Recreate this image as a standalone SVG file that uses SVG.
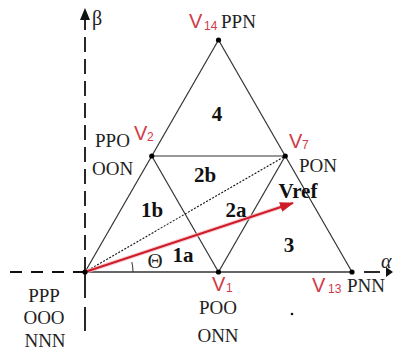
<svg xmlns="http://www.w3.org/2000/svg" width="394" height="356" viewBox="0 0 394 356">
<defs>
<style>
.ax{stroke:#111;stroke-width:1.8;fill:none}
.edge{stroke:#333;stroke-width:1.2;fill:none}
.dot{fill:#000}
.lbl{font-family:"Liberation Serif","Times New Roman",serif;font-size:19px;fill:#222}
.v{font-family:"Liberation Sans",Arial,sans-serif;font-size:20px;fill:#d23a48}
.vs{font-family:"Liberation Sans",Arial,sans-serif;font-size:12px;fill:#d23a48}
.reg{font-family:"Liberation Serif","Times New Roman",serif;font-size:21px;font-weight:bold;fill:#111;text-anchor:middle}
</style>
<marker id="redhead" markerWidth="14" markerHeight="10" refX="13" refY="5" orient="auto" markerUnits="userSpaceOnUse">
<path d="M0,0 L14,5 L0,10 Z" fill="#d01c28"/>
</marker>
</defs>
<rect width="394" height="356" fill="#fff"/>
<g id="axes">
<line class="ax" x1="85" y1="272" x2="85" y2="20" stroke-dasharray="15,7"/>
<line class="ax" x1="85" y1="274" x2="85" y2="336" stroke-dasharray="24,9"/>
<path d="M80,20 L85,8 L90,20 Z" fill="#111"/>
<line class="ax" x1="85" y1="272" x2="10" y2="272" stroke-dasharray="12,9"/>
<line class="ax" x1="364" y1="272" x2="380" y2="272"/>
<path d="M386,267 L393,272 L386,277 Z" fill="#111"/>
<text class="lbl" x="92" y="25" style="font-size:20px">β</text>
<text class="lbl" x="381" y="268" style="font-size:20px;font-style:italic">α</text>
</g>
<g id="connectors">
<line class="edge" x1="85" y1="272" x2="352" y2="272" style="stroke-width:1.6"/>
<line class="edge" x1="85" y1="272" x2="218.5" y2="40"/>
<line class="edge" x1="218.5" y1="40" x2="352" y2="272"/>
<line class="edge" x1="151.75" y1="156" x2="285.25" y2="156"/>
<line class="edge" x1="151.75" y1="156" x2="218.5" y2="272"/>
<line class="edge" x1="285.25" y1="156" x2="218.5" y2="272"/>
<line x1="85" y1="272" x2="285.25" y2="156" stroke="#111" stroke-width="1.1" stroke-dasharray="2,1.5"/>
<line x1="85" y1="272" x2="290" y2="204" stroke="#f2b8c0" stroke-width="4" opacity="0.7"/>
<line x1="85" y1="272" x2="293" y2="203" stroke="#d01c28" stroke-width="2" marker-end="url(#redhead)"/>
<path d="M133,272 A48,48 0 0 0 131.9,262" stroke="#333" stroke-width="1" fill="none"/>
</g>
<g id="origin">
<circle class="dot" cx="85" cy="272" r="2.6"/>
<text class="lbl" x="44" y="302" text-anchor="middle">PPP</text>
<text class="lbl" x="44" y="324" text-anchor="middle">OOO</text>
<text class="lbl" x="45" y="347" text-anchor="middle">NNN</text>
</g>
<g id="V1">
<circle class="dot" cx="218.5" cy="272" r="2.6"/>
<text class="v" x="212" y="291">V</text>
<text class="vs" x="226" y="292">1</text>
<text class="lbl" x="218" y="314" text-anchor="middle">POO</text>
<text class="lbl" x="218" y="342" text-anchor="middle">ONN</text>
</g>
<g id="V13">
<circle class="dot" cx="352" cy="272" r="2.6"/>
<text class="v" x="312" y="292">V</text>
<text class="vs" x="328" y="293">13</text>
<text class="lbl" x="347" y="292">PNN</text>
</g>
<g id="V14">
<circle class="dot" cx="218.5" cy="40" r="2.6"/>
<text class="v" x="189" y="28">V</text>
<text class="vs" x="204" y="30">14</text>
<text class="lbl" x="221" y="28">PPN</text>
</g>
<g id="V2">
<circle class="dot" cx="151.75" cy="156" r="2.6"/>
<text class="v" x="134" y="140">V</text>
<text class="vs" x="147" y="141">2</text>
<text class="lbl" x="95" y="147">PPO</text>
<text class="lbl" x="92" y="175">OON</text>
</g>
<g id="V7">
<circle class="dot" cx="285.25" cy="156" r="2.6"/>
<text class="v" x="289" y="148">V</text>
<text class="vs" x="302" y="149">7</text>
<text class="lbl" x="299" y="172">PON</text>
</g>
<g id="regions">
<text class="reg" x="217" y="121">4</text>
<text class="reg" x="205" y="182">2b</text>
<text class="reg" x="152" y="217">1b</text>
<text class="reg" x="236" y="217">2a</text>
<text class="reg" x="183" y="262">1a</text>
<text class="reg" x="289" y="252">3</text>
<text class="reg" x="298" y="198">Vref</text>
<text class="lbl" x="155" y="268" text-anchor="middle" style="font-size:21px">Θ</text>
<circle cx="292" cy="314" r="1.3" fill="#111"/>
</g>
</svg>
